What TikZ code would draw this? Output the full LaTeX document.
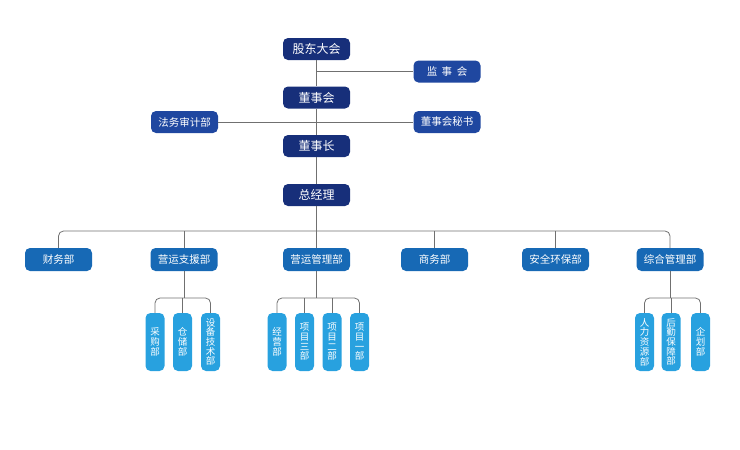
\documentclass[tikz,border=0pt]{standalone}
\usepackage{fontspec}
\newfontfamily\cjk{Noto Sans CJK SC}
\definecolor{navy}{HTML}{172F7A}
\definecolor{midblue}{HTML}{1F47A0}
\definecolor{deptblue}{HTML}{1769B5}
\definecolor{subblue}{HTML}{28A1DF}
\definecolor{linegray}{HTML}{707070}
\tikzset{
  topbox/.style={rectangle, rounded corners=5pt, fill=navy, text=white, minimum width=67pt, minimum height=22pt, inner sep=0pt, font=\cjk\fontsize{12}{12}\selectfont},
  sidebox/.style={rectangle, rounded corners=5pt, fill=midblue, text=white, minimum width=67pt, minimum height=22pt, inner sep=0pt, font=\cjk\fontsize{10.5}{10.5}\selectfont},
  deptbox/.style={rectangle, rounded corners=5pt, fill=deptblue, text=white, minimum width=67pt, minimum height=23pt, inner sep=0pt, font=\cjk\fontsize{10.5}{10.5}\selectfont},
  subbox/.style={rectangle, rounded corners=5pt, fill=subblue, text=white, minimum width=19pt, minimum height=58pt, inner sep=0pt, align=center, font=\cjk\fontsize{9.5}{9.7}\selectfont},
  conn/.style={draw=linegray, line width=0.8pt},
  bus/.style={draw=linegray, line width=0.8pt, rounded corners=5pt}
}
\begin{document}
\begin{tikzpicture}[x=1pt,y=-1pt]
\useasboundingbox (0,0) rectangle (740,450);
% top chain
\node[topbox] (gd) at (316.5,49) {股东大会};
\node[sidebox] (js) at (447,71.5) {监\hspace{4.5pt}事\hspace{4.5pt}会};
\node[topbox] (dsh) at (316.5,97.5) {董事会};
\node[sidebox] (fw) at (184.5,122) {法务审计部};
\node[sidebox] (ms) at (447,122) {董事会秘书};
\node[topbox] (dsz) at (316.5,146) {董事长};
\node[topbox] (zjl) at (316.5,195) {总经理};
% departments
\node[deptbox] (cw) at (58.5,259.5) {财务部};
\node[deptbox] (yz) at (184,259.5) {营运支援部};
\node[deptbox] (yg) at (316.5,259.5) {营运管理部};
\node[deptbox] (sw) at (434.5,259.5) {商务部};
\node[deptbox] (aq) at (555.5,259.5) {安全环保部};
\node[deptbox] (zh) at (670,259.5) {综合管理部};
% sub departments
\node[subbox] (cg) at (155,342) {采\\购\\部};
\node[subbox] (cc) at (182.5,342) {仓\\储\\部};
\node[subbox] (sb) at (210.5,342) {设\\备\\技\\术\\部};
\node[subbox] (jy) at (277,342) {经\\营\\部};
\node[subbox] (x3) at (304.5,342) {项\\目\\三\\部};
\node[subbox] (x2) at (332,342) {项\\目\\二\\部};
\node[subbox] (x1) at (359.5,342) {项\\目\\一\\部};
\node[subbox] (rl) at (644.5,342) {人\\力\\资\\源\\部};
\node[subbox] (hq) at (671,342) {后\\勤\\保\\障\\部};
\node[subbox] (qh) at (700.5,342) {企\\划\\部};
% bus coordinates
\coordinate (busA) at (0,231);
\coordinate (busB) at (0,298);
% trunk
\draw[conn] (gd) -- (dsh);
\draw[conn] (dsh) -- (dsz);
\draw[conn] (dsz) -- (zjl);
\draw[conn] (gd.south |- js.west) -- (js.west);
\draw[conn] (fw.east) -- (dsh.south |- fw.east);
\draw[conn] (dsh.south |- ms.west) -- (ms.west);
% department bus
\draw[conn] (zjl.south) -- (zjl.south |- busA);
\draw[bus] (cw.north) |- (busA -| zh.north) -- (zh.north);
\draw[conn] (yz.north) -- (yz.north |- busA);
\draw[conn] (yg.north) -- (yg.north |- busA);
\draw[conn] (sw.north) -- (sw.north |- busA);
\draw[conn] (aq.north) -- (aq.north |- busA);
% sub buses
\draw[conn] (yz.south) -- (yz.south |- busB);
\draw[bus] (cg.north) |- (busB -| sb.north) -- (sb.north);
\draw[conn] (cc.north) -- (cc.north |- busB);
\draw[conn] (yg.south) -- (yg.south |- busB);
\draw[bus] (jy.north) |- (busB -| x1.north) -- (x1.north);
\draw[conn] (x3.north) -- (x3.north |- busB);
\draw[conn] (x2.north) -- (x2.north |- busB);
\draw[conn] (zh.south) -- (zh.south |- busB);
\draw[bus] (rl.north) |- (busB -| qh.north) -- (qh.north);
\draw[conn] (hq.north) -- (hq.north |- busB);
\end{tikzpicture}
\end{document}
